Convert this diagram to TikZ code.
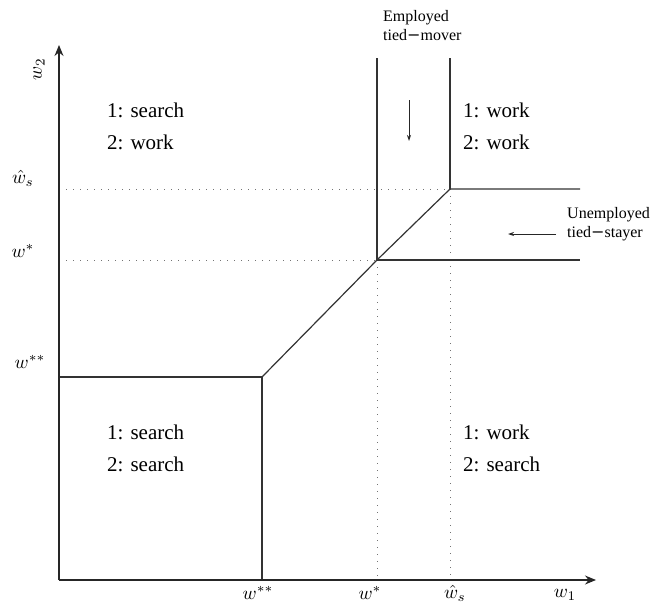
\documentclass[tikz,border=0pt]{standalone}
\usepackage{fontspec}
\setmainfont{Liberation Serif}
\usetikzlibrary{arrows.meta}
\newcommand{\bigmath}[1]{\scalebox{1.9}{$#1$}}
\begin{document}
\begin{tikzpicture}[x=1pt,y=-1pt,
  edge/.style={draw=black!80,line width=1.2pt},
  guide/.style={draw=black!55,line width=1pt,dash pattern=on 1pt off 6pt},
  axis/.style={draw=black!85,line width=1.3pt,-{Stealth[length=11pt,width=9pt]}},
  note/.style={draw=black!85,line width=0.9pt,-{Stealth[length=6pt,width=4pt]}},
  region/.style={font=\fontsize{21}{32}\selectfont,align=left,anchor=base west,inner sep=0pt},
  lab/.style={font=\fontsize{16}{19}\selectfont,align=left,anchor=base west,inner sep=0pt},
  mlab/.style={inner sep=0pt}]
\useasboundingbox (0,0) rectangle (652,605);
% key points
\coordinate (O) at (59,580);
\coordinate (Ytop) at (59,45);
\coordinate (Xend) at (596,580);
\coordinate (A) at (59,377);
\coordinate (B) at (262,377);
\coordinate (C) at (262,580);
\coordinate (D) at (377,260);
\coordinate (E) at (450,189);
\coordinate (F) at (377,58);
\coordinate (G) at (450,58);
\coordinate (H) at (580,189);
\coordinate (I) at (580,260);
\coordinate (Ls) at (59,189);
\coordinate (Lst) at (59,260);
\coordinate (Bs) at (377,580);
\coordinate (Bh) at (450,580);
% guides
\draw[guide] (Ls) -- (E);
\draw[guide] (Lst) -- (D);
\draw[guide] (D) -- (Bs);
\draw[guide] (E) -- (Bh);
% boundaries
\draw[edge] (A) -- (B) -- (C);
\draw[edge] (B) -- (D) -- (E) -- (H);
\draw[edge] (D) -- (I);
\draw[edge] (D) -- (F);
\draw[edge] (E) -- (G);
% axes
\draw[axis] (O) -- (Ytop);
\draw[axis] (O) -- (Xend);
% axis labels
\node[mlab,rotate=90] (w2) at (39,69) {\bigmath{w_2}};
\node[mlab] (w1) at (565,595) {\bigmath{w_1}};
\node[mlab] (lws) at (23,178) {\bigmath{\hat{w}_s}};
\node[mlab] (lwst) at (23,251) {\bigmath{w^{*}}};
\node[mlab] (lwss) at (30,362) {\bigmath{w^{**}}};
\node[mlab] (bwss) at (258,593) {\bigmath{w^{**}}};
\node[mlab] (bwst) at (370,593) {\bigmath{w^{*}}};
\node[mlab] (bws) at (455,593) {\bigmath{\hat{w}_s}};
% regions
\node[region] (r1) at (107,149) {1: search\\2: work};
\node[region] (r2) at (463,149) {1: work\\2: work};
\node[region] (r3) at (107,471) {1: search\\2: search};
\node[region] (r4) at (463,471) {1: work\\2: search};
% notes
\node[lab] (emp) at (383,40) {Employed\\tied{\fontspec{DejaVu Serif}\char"2212}mover};
\coordinate (ea) at (409,100);
\coordinate (eb) at (409,141);
\draw[note] (ea) -- (eb);
\node[lab] (unemp) at (567,237) {Unemployed\\tied{\fontspec{DejaVu Serif}\char"2212}stayer};
\coordinate (ua) at (556,234);
\coordinate (ub) at (508,234);
\draw[note] (ua) -- (ub);
\end{tikzpicture}
\end{document}
